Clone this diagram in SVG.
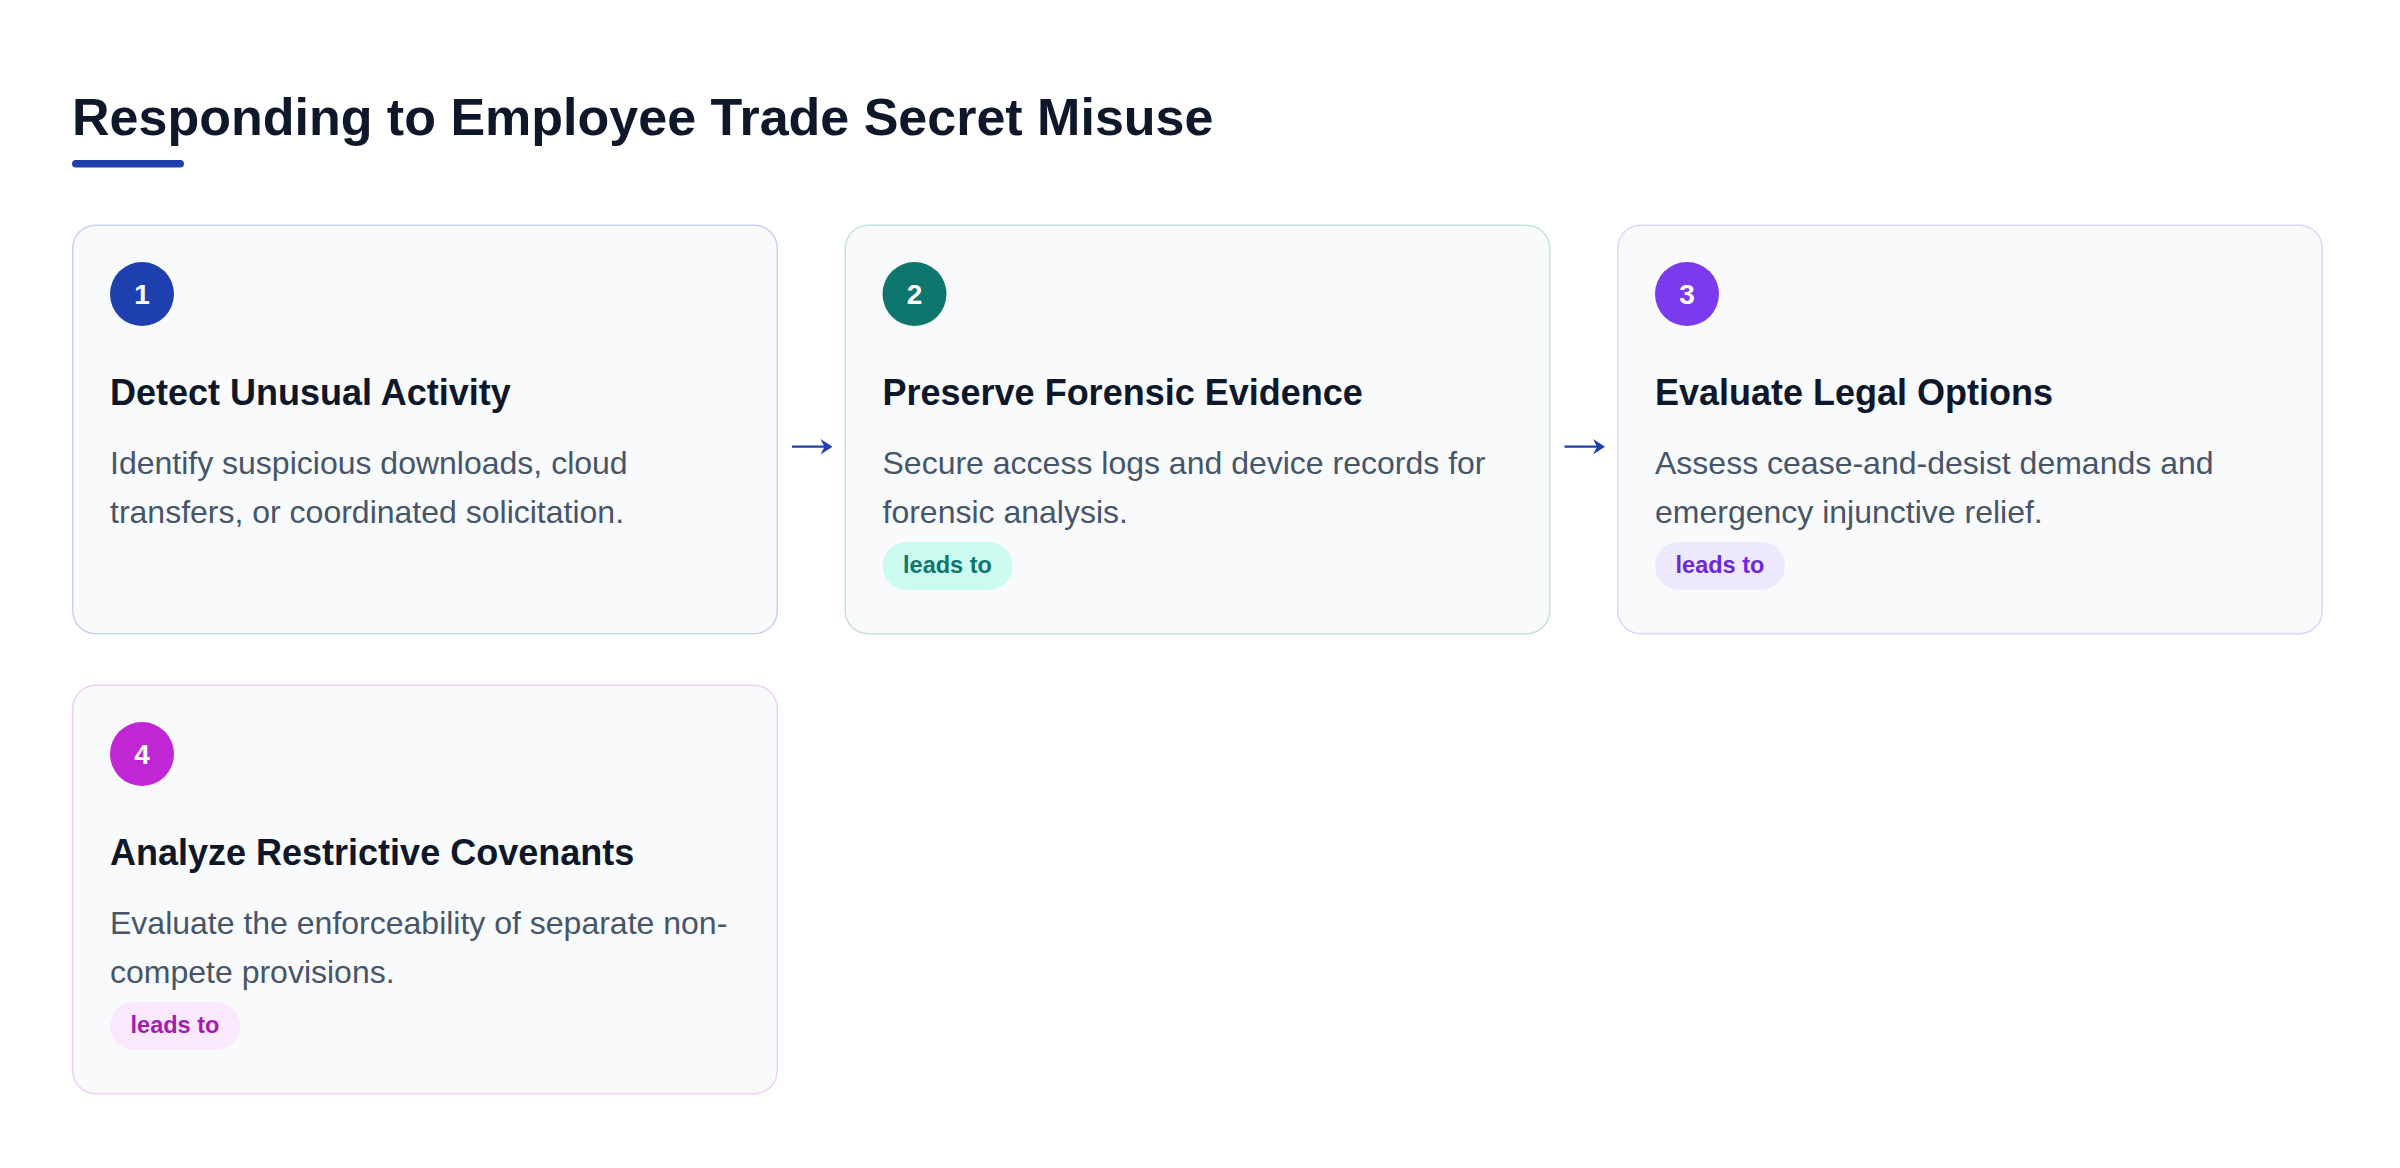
<svg xmlns="http://www.w3.org/2000/svg" width="2400" height="1168" viewBox="0 0 2400 1168">
  <style>
    .title { font-family: "Liberation Sans", Arial, sans-serif; font-weight: 700; font-size: 52px; fill: #0f172a; }
    .card { fill: #f8fafc; stroke-width: 1.5; }
    .num { font-family: "Liberation Sans", Arial, sans-serif; font-weight: 700; font-size: 28px; fill: #ffffff; text-anchor: middle; }
    .head { font-family: "Liberation Sans", Arial, sans-serif; font-weight: 700; font-size: 36px; fill: #0f172a; }
    .body { font-family: "Liberation Sans", Arial, sans-serif; font-size: 32px; fill: #475569; }
    .pill-t { font-family: "Liberation Sans", Arial, sans-serif; font-weight: 700; font-size: 23.5px; text-anchor: middle; }
    .conn-line { stroke: #1e40af; stroke-width: 2.2; fill: none; }
    .conn-head { fill: #1e40af; }
  </style>
  <rect x="0" y="0" width="2400" height="1168" fill="#ffffff"/>

  <g id="title">
    <text class="title" x="72" y="135">Responding to Employee Trade Secret Misuse</text>
    <rect x="72" y="160" width="112" height="7.5" rx="3.75" fill="#1e40af"/>
  </g>

  <g id="connectors">
    <path class="conn-line" d="M792 446.7 H829"/>
    <path class="conn-head" d="M820.5 439 L832.5 446.7 L820.5 454.5 L824.5 446.7 Z"/>
    <path class="conn-line" d="M1564.5 446.7 H1601.5"/>
    <path class="conn-head" d="M1593 439 L1605 446.7 L1593 454.5 L1597 446.7 Z"/>
  </g>

  <g id="step1">
    <rect class="card" x="72.75" y="225.25" width="704.5" height="408.5" rx="23" stroke="#c9d1f0"/>
    <circle cx="142" cy="294" r="32" fill="#1e40af"/>
    <text class="num" x="142" y="304">1</text>
    <text class="head" x="110" y="404.5">Detect Unusual Activity</text>
    <text class="body" x="110" y="473.5">Identify suspicious downloads, cloud</text>
    <text class="body" x="110" y="522.5">transfers, or coordinated solicitation.</text>
  </g>

  <g id="step2">
    <rect class="card" x="845.25" y="225.25" width="704.5" height="408.5" rx="23" stroke="#c6e2dc"/>
    <circle cx="914.5" cy="294" r="32" fill="#0f766e"/>
    <text class="num" x="914.5" y="304">2</text>
    <text class="head" x="882.5" y="404.5">Preserve Forensic Evidence</text>
    <text class="body" x="882.5" y="473.5">Secure access logs and device records for</text>
    <text class="body" x="882.5" y="522.5">forensic analysis.</text>
    <rect x="882.5" y="542" width="130" height="48" rx="24" fill="#ccfbf1"/>
    <text class="pill-t" x="947.5" y="572.5" fill="#0f766e">leads to</text>
  </g>

  <g id="step3">
    <rect class="card" x="1617.75" y="225.25" width="704.5" height="408.5" rx="23" stroke="#ddd6fe"/>
    <circle cx="1687" cy="294" r="32" fill="#7c3aed"/>
    <text class="num" x="1687" y="304">3</text>
    <text class="head" x="1655" y="404.5">Evaluate Legal Options</text>
    <text class="body" x="1655" y="473.5">Assess cease-and-desist demands and</text>
    <text class="body" x="1655" y="522.5">emergency injunctive relief.</text>
    <rect x="1655" y="542" width="130" height="48" rx="24" fill="#ede9fe"/>
    <text class="pill-t" x="1720" y="572.5" fill="#6d28d9">leads to</text>
  </g>

  <g id="step4">
    <rect class="card" x="72.75" y="685.25" width="704.5" height="408.5" rx="23" stroke="#f0d0f5"/>
    <circle cx="142" cy="754" r="32" fill="#c026d3"/>
    <text class="num" x="142" y="764">4</text>
    <text class="head" x="110" y="864.5">Analyze Restrictive Covenants</text>
    <text class="body" x="110" y="933.5">Evaluate the enforceability of separate non-</text>
    <text class="body" x="110" y="982.5">compete provisions.</text>
    <rect x="110" y="1002" width="130" height="48" rx="24" fill="#fae8ff"/>
    <text class="pill-t" x="175" y="1032.5" fill="#a21caf">leads to</text>
  </g>
</svg>
